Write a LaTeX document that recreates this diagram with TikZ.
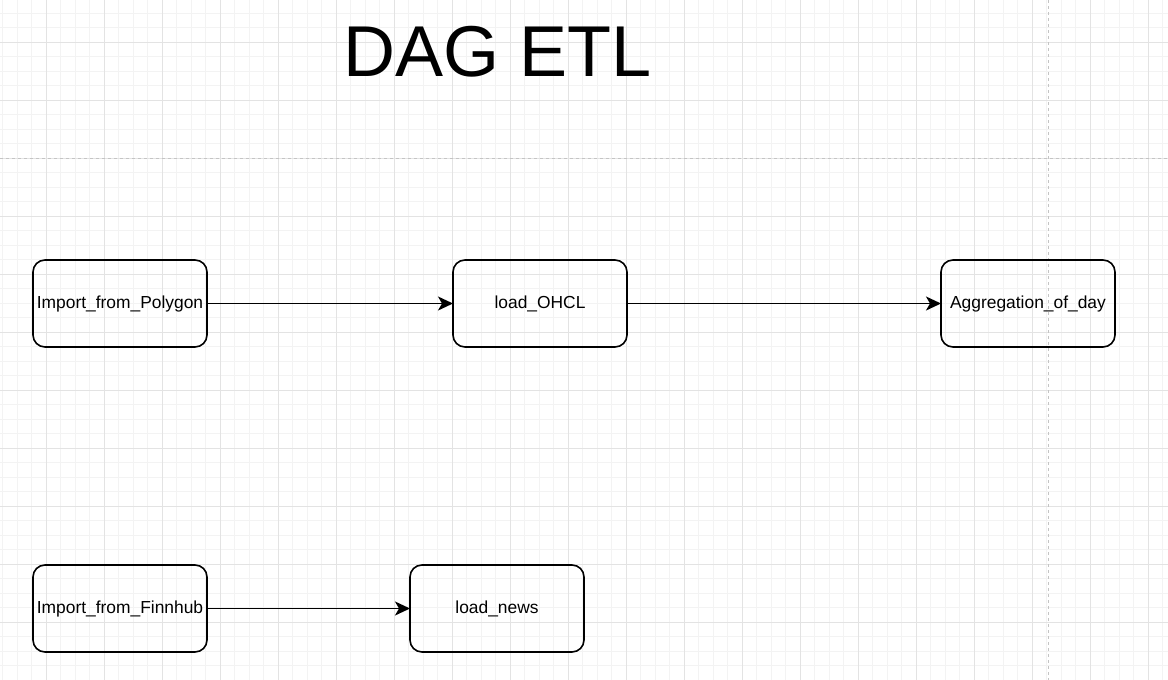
\documentclass[tikz,border=0pt]{standalone}
\usepackage{fontspec}
\setmainfont{Liberation Sans}
\usetikzlibrary{positioning,arrows.meta}

\definecolor{minorgrid}{HTML}{F3F3F3}
\definecolor{majorgrid}{HTML}{E3E3E3}
\definecolor{pagebreak}{HTML}{C4C4C4}

\begin{document}
\begin{tikzpicture}[x=1pt, y=-1pt,
  task/.style={draw, rectangle, rounded corners=12pt, line width=1.6pt,
    minimum width=174pt, minimum height=87pt, inner sep=0pt, outer sep=0pt,
    font=\fontsize{17.4}{20}\selectfont},
  >={Stealth[length=15pt, width=14pt, inset=4pt]}]
\useasboundingbox[fill=white] (0,0) rectangle (1168,680);
% grid
\foreach \i in {0,...,80} \draw[minorgrid, line width=1pt] ({2.8+14.5*\i},0) -- ++(0,680);
\foreach \i in {0,...,45} \draw[minorgrid, line width=1pt] (0,{13.3+14.5*\i}) -- ++(1168,0);
\foreach \i in {0,...,19} \draw[majorgrid, line width=1pt] ({46.3+58*\i},0) -- ++(0,680);
\foreach \i in {0,...,10} \draw[majorgrid, line width=1pt] (0,{42.3+58*\i}) -- ++(1168,0);
\draw[pagebreak, line width=1pt, dash pattern=on 3pt off 3pt] (0,158.3) -- (1168,158.3);
\draw[pagebreak, line width=1pt, dash pattern=on 3pt off 3pt] (1048.3,0) -- (1048.3,680);

\node[anchor=base, font=\fontsize{72}{80}\selectfont] (t) at (498,76) {DAG ETL};
\node[task] (a) at (120,303.5) {Import\_from\_Polygon};
\node[task, right=246pt of a] (b) {load\_OHCL};
\node[task, right=314pt of b] (c) {Aggregation\_of\_day};
\node[task, below=218pt of a] (d) {Import\_from\_Finnhub};
\node[task, right=203pt of d] (e) {load\_news};
\draw[->, line width=1.8pt] (a.east) -- (b.west);
\draw[->, line width=1.8pt] (b.east) -- (c.west);
\draw[->, line width=1.8pt] (d.east) -- (e.west);
\end{tikzpicture}
\end{document}
